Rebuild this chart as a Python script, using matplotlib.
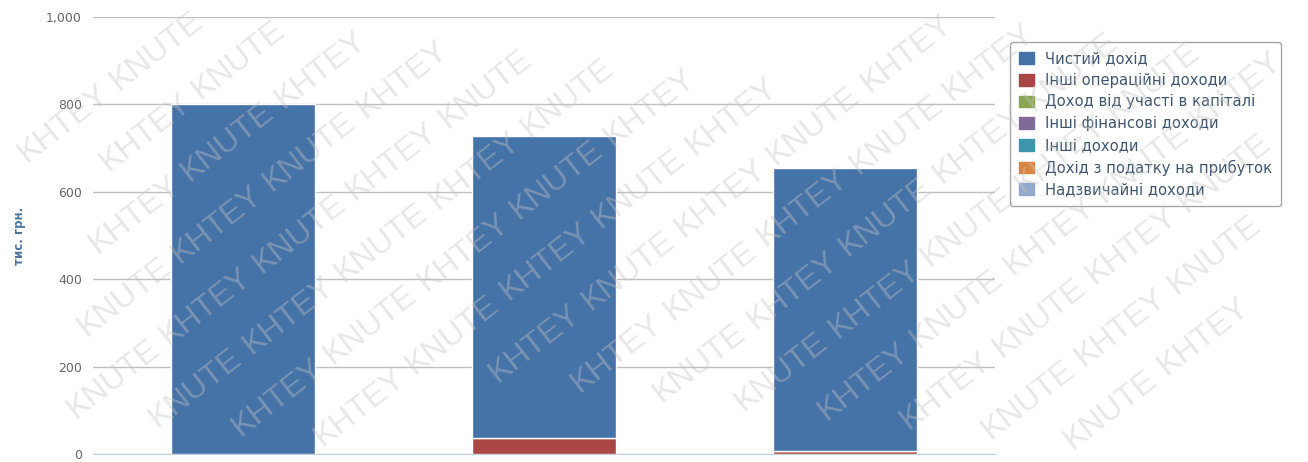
import matplotlib
matplotlib.use("Agg")
import matplotlib.pyplot as plt
from matplotlib.patches import Patch
import numpy as np

categories = ["2011", "2012", "2013"]
series_names = ["Чистий дохід", "Інші операційні доходи", "Доход від участі в капіталі",
                "Інші фінансові доходи", "Інші доходи", "Дохід з податку на прибуток",
                "Надзвичайні доходи"]
chystyi_dokhid = [800, 690, 648]
inshi_operatsiini = [0, 37, 7]
dokhid_uchast = [0, 0, 0]
inshi_finansovi = [0, 0, 0]
inshi_dokhody = [0, 0, 0]
podatok = [0, 0, 0]
nadzvychaini = [0, 0, 0]
colors = ['#4572A7', '#AA4643', '#89A54E', '#80699B', '#3D96AE', '#DB843D', '#92A8CD']
yticks = [0, 200, 400, 600, 800, 1000]
ytick_labels = ["0", "200", "400", "600", "800", "1,000"]
watermark_words = ["KHTEY", "KNUTE"]

plt.rcParams['font.family'] = ['DejaVu Sans']
W, H = 1308, 462
fig = plt.figure(figsize=(W / 100, H / 100), dpi=100)
ax = fig.add_axes([93/W, 1-454/H, (995-93)/W, (454-17)/H])

x = np.arange(len(categories))
stack_order = [nadzvychaini, podatok, inshi_dokhody, inshi_finansovi, dokhid_uchast,
               inshi_operatsiini, chystyi_dokhid]
stack_colors = colors[::-1]
bottom = np.zeros(len(categories))
for vals, c in zip(stack_order, stack_colors):
    v = np.array(vals, dtype=float)
    if v.sum() > 0:
        ax.bar(x, v, bottom=bottom, width=0.48, color=c, edgecolor='white', linewidth=1, zorder=3)
    bottom += v

ax.set_xlim(-0.5, 2.5)
ax.set_ylim(0, 1000)
ax.set_yticks(yticks)
ax.set_yticklabels(ytick_labels, color='#666666', fontsize=9)
ax.tick_params(axis='y', length=0, pad=8)
ax.set_xticks([])
ax.yaxis.grid(True, color='#c0c0c0', linewidth=1, zorder=0)
for s in ['top', 'right', 'left']:
    ax.spines[s].set_visible(False)
ax.spines['bottom'].set_color('#C0D0E0')
ax.set_ylabel("тис. грн.", color='#4d759e', fontsize=8.5, fontweight='bold')
ax.yaxis.set_label_coords(-(93 - 26) / (995 - 93), 0.5)

handles = [Patch(facecolor=c, edgecolor=c) for c in colors]
leg = fig.legend(handles, series_names, loc='upper left',
                 bbox_to_anchor=(1003/W, 1-35/H), frameon=True,
                 fontsize=10.6, labelcolor='#3E576F', handlelength=1.0, handleheight=0.85,
                 handletextpad=0.75, labelspacing=0.45, borderpad=0.6, fancybox=True)
leg.get_frame().set_edgecolor('#909090')
leg.get_frame().set_linewidth(1)

# watermark: individual words on diagonal lines, only those fully inside the figure
ang_deg = 38
ang = np.deg2rad(ang_deg)
d = np.array([np.cos(ang), np.sin(ang)])
n = np.array([-np.sin(ang), np.cos(ang)])
step, gap = 118, 58
renderer = fig.canvas.get_renderer()
for k in range(-25, 25):
    for j in range(-25, 25):
        p = np.array([20.0, 10.0]) + j * step * d + k * gap * n + (k % 2) * 0.5 * step * d
        if not (-100 < p[0] < W + 100 and -100 < p[1] < H + 100):
            continue
        word = watermark_words[j % 2]
        t = fig.text(p[0] / W, p[1] / H, word, rotation=ang_deg, rotation_mode='anchor',
                     fontsize=23, family='Liberation Sans', color='#c4c4c4', alpha=0.4,
                     ha='center', va='center', zorder=10)
        bb = t.get_window_extent(renderer)
        if bb.x0 < 1 or bb.y0 < 1 or bb.x1 > W - 1 or bb.y1 > H - 1:
            t.remove()

fig.savefig("out.png", dpi=100)
